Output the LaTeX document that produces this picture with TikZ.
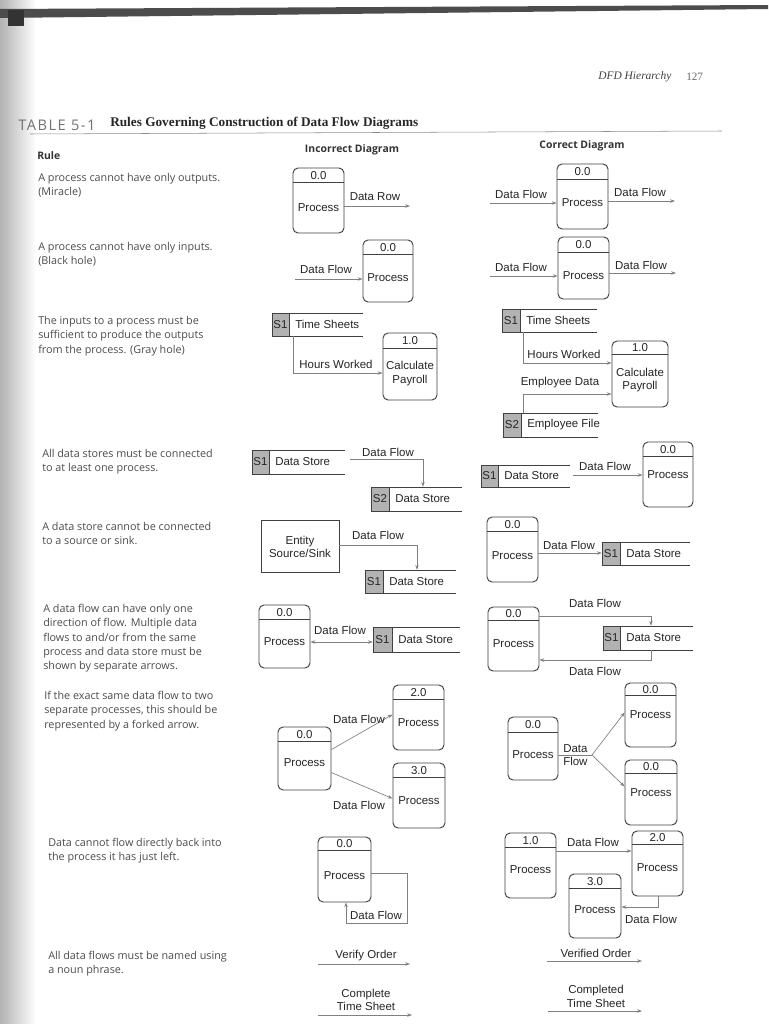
\documentclass[tikz,border=0pt]{standalone}
\usepackage{fontspec}
\setmainfont{Liberation Sans}
\newfontfamily\rulefont{Open Sans}
\newfontfamily\tablefont[LetterSpace=10]{Open Sans}
\newfontfamily\serifface{Liberation Serif}
\usetikzlibrary{arrows.meta,fit,calc}

\tikzset{
  pbox/.style={draw=black!75, line width=0.7pt, rounded corners=3.8pt, fill=white, inner sep=0pt},
  ebox/.style={draw=black!75, line width=0.7pt, fill=white, inner sep=0pt},
  pline/.style={draw=black!75, line width=0.7pt},
  sline/.style={draw=black!75, line width=0.7pt},
  scell/.style={fill=black!30},
  lbl/.style={font=\fontsize{8.6}{10}\selectfont, text=black!85, inner sep=0pt},
  flow/.style={draw=black!50, line width=0.5pt, -{Stealth[length=3.6pt,width=2.6pt]}},
  flowtwo/.style={draw=black!50, line width=0.5pt, {Stealth[length=3.6pt,width=2.6pt]}-{Stealth[length=3.6pt,width=2.6pt]}},
  fline/.style={draw=black!50, line width=0.5pt},
  ruletext/.style={font=\rulefont\fontsize{8.1}{10.7}\selectfont, text=black!70, anchor=north west, align=left, inner sep=0pt},
  headtext/.style={font=\rulefont\fontsize{7.8}{10}\selectfont\bfseries, text=black!80, inner sep=0pt},
}

% name, x1, y1, x2, y2, divider y, id, text, text y
\newcommand\Proc[9]{%
  \node[pbox, fit={(#2,#3) (#4,#5)}] (#1) {};
  \draw[pline] (#2,#6) -- (#4,#6);
  \node[lbl] (#1-id) at ({(#2+#4)/2},{(#3+#6)/2+0.5}) {#7};
  \node[lbl, align=center] (#1-t) at ({(#2+#4)/2},#9) {#8};
}
% name, x1, y1, cell right x, x2, y2, id, text
\newcommand\Store[8]{%
  \node[inner sep=0pt, fit={(#2,#3) (#5,#6)}] (#1) {};
  \fill[scell] (#2,#3) rectangle (#4,#6);
  \draw[sline] (#5,#3) -- (#2,#3) -- (#2,#6) -- (#5,#6);
  \draw[sline] (#4,#3) -- (#4,#6);
  \node[lbl] (#1-id) at ({(#2+#4)/2},{(#3+#6)/2}) {#7};
  \node[lbl, anchor=west] (#1-t) at ({#4+6},{(#3+#6)/2}) {#8};
}

\begin{document}
\begin{tikzpicture}[x=0.75pt, y=-0.75pt]
\useasboundingbox (0,0) rectangle (768,1024);
\fill[white] (0,0) rectangle (768,1024);
% scan edges
\shade[left color=black!30, right color=white] (0,0) rectangle (36,1024);
\fill[black!70] (0,9) -- (768,5) -- (768,9) -- (0,18) -- cycle;
\fill[black!80] (8,10) rectangle (24,26);

% running head and title
\node[font=\serifface\itshape\fontsize{8.6}{10}\selectfont, text=black!75, anchor=west, inner sep=0pt] (runhead) at (598,77) {DFD Hierarchy};
\node[font=\serifface\fontsize{8.4}{10}\selectfont, text=black!60, anchor=west, inner sep=0pt] (pageno) at (686,77) {127};
\node[font=\tablefont\fontsize{11}{12}\selectfont, text=black!55, anchor=west, inner sep=0pt] (tabno) at (18,125) {TABLE 5-1};
\node[font=\serifface\bfseries\fontsize{9.95}{11}\selectfont, text=black!85, anchor=west, inner sep=0pt] (title) at (110,123) {Rules Governing Construction of Data Flow Diagrams};
\draw[black!45, line width=0.4pt] (30,134) -- (722,131);

\node[headtext, anchor=west] (hrule) at (37,156) {Rule};
\node[headtext] (hinc) at (352,150) {Incorrect Diagram};
\node[headtext] (hcor) at (582,146) {Correct Diagram};

% rule texts
\node[ruletext] (r1) at (38,173) {A process cannot have only outputs.\\(Miracle)};
\node[ruletext] (r2) at (38,242) {A process cannot have only inputs.\\(Black hole)};
\node[ruletext] (r3) at (38,316) {The inputs to a process must be\\sufficient to produce the outputs\\from the process. (Gray hole)};
\node[ruletext] (r4) at (42,449) {All data stores must be connected\\to at least one process.};
\node[ruletext] (r5) at (42,522) {A data store cannot be connected\\to a source or sink.};
\node[ruletext] (r6) at (43,604) {A data flow can have only one\\direction of flow. Multiple data\\flows to and/or from the same\\process and data store must be\\shown by separate arrows.};
\node[ruletext] (r7) at (44,691) {If the exact same data flow to two\\separate processes, this should be\\represented by a forked arrow.};
\node[ruletext] (r8) at (48,838) {Data cannot flow directly back into\\the process it has just left.};
\node[ruletext] (r9) at (48,951) {All data flows must be named using\\a noun phrase.};

% ---------- Row 1 ----------
\Proc{a1}{293}{168}{344}{233}{182}{0.0}{Process}{208}
\coordinate (a1o) at (410,206);
\draw[flow] (a1o -| a1.east) -- (a1o);
\node[lbl] (a1l) at (375,197) {Data Row};

\Proc{b1}{557}{164}{608}{229}{179}{0.0}{Process}{203}
\coordinate (b1i) at (490,203);
\draw[flow] (b1i) -- (b1i -| b1.west);
\node[lbl] (b1li) at (521,194) {Data Flow};
\coordinate (b1o) at (675,201);
\draw[flow] (b1o -| b1.east) -- (b1o);
\node[lbl] (b1lo) at (640,192) {Data Flow};

% ---------- Row 2 ----------
\Proc{a2}{363}{240}{413}{302}{254}{0.0}{Process}{278}
\coordinate (a2i) at (295,279);
\draw[flow] (a2i) -- (a2i -| a2.west);
\node[lbl] (a2l) at (326,269) {Data Flow};

\Proc{b2}{558}{237}{609}{299}{252}{0.0}{Process}{276}
\coordinate (b2i) at (490,276);
\draw[flow] (b2i) -- (b2i -| b2.west);
\node[lbl] (b2li) at (521,267) {Data Flow};
\coordinate (b2o) at (676,273);
\draw[flow] (b2o -| b2.east) -- (b2o);
\node[lbl] (b2lo) at (641,265) {Data Flow};

% ---------- Row 3 ----------
\Store{a3s}{272}{313}{289}{363}{336}{S1}{Time Sheets}
\Proc{a3}{383}{333}{437}{400}{348}{1.0}{Calculate\\Payroll}{373.5}
\coordinate (a3k) at (293,373);
\draw[flow] (a3k |- a3s.south) -- (a3k) -- (a3k -| a3.west);
\node[lbl] (a3l) at (336,364) {Hours Worked};

\Store{b3s}{502}{309}{520}{597}{332}{S1}{Time Sheets}
\Proc{b3}{612}{341}{668}{407}{354}{1.0}{Calculate\\Payroll}{380}
\coordinate (b3k1) at (523,363);
\draw[flow] (b3k1 |- b3s.south) -- (b3k1) -- (b3k1 -| b3.west);
\node[lbl] (b3l1) at (564,354) {Hours Worked};
\Store{b3e}{503}{413}{521}{598}{437}{S2}{Employee File}
\coordinate (b3k2) at (523,394);
\draw[flow] (b3k2 |- b3e.north) -- (b3k2) -- (b3k2 -| b3.west);
\node[lbl] (b3l2) at (560,383) {Employee Data};

% ---------- Row 4 ----------
\Store{a4s}{252}{450}{269}{345}{474}{S1}{Data Store}
\Store{a4t}{371}{487}{389}{462}{511}{S2}{Data Store}
\coordinate (a4a) at (350,459);
\coordinate (a4k) at (423,459);
\draw[flow] (a4a) -- (a4k) -- (a4k |- a4t.north);
\node[lbl] (a4l) at (388,452) {Data Flow};

\Store{b4s}{481}{465}{498}{570}{487}{S1}{Data Store}
\Proc{b4}{643}{442}{693}{507}{456}{0.0}{Process}{475}
\coordinate (b4a) at (573,475);
\draw[flow] (b4a) -- (b4a -| b4.west);
\node[lbl] (b4l) at (605,466) {Data Flow};

% ---------- Row 5 ----------
\node[ebox, fit={(261,520) (339,572)}] (a5e) {};
\node[lbl, align=center] (a5et) at (300,547) {Entity\\Source/Sink};
\Store{a5s}{365}{570}{383}{456}{593}{S1}{Data Store}
\coordinate (a5k) at (417,545);
\draw[flow] (a5k -| a5e.east) -- (a5k) -- (a5k |- a5s.north);
\node[lbl] (a5l) at (378,535) {Data Flow};

\Proc{b5}{487}{517}{538}{582}{531}{0.0}{Process}{556}
\Store{b5s}{602}{542}{620}{690}{565}{S1}{Data Store}
\coordinate (b5a) at (538,553);
\draw[flow] (b5a -| b5.east) -- (b5a -| b5s.west);
\node[lbl] (b5l) at (569,545) {Data Flow};

% ---------- Row 6 ----------
\Proc{a6}{259}{605}{310}{668}{619}{0.0}{Process}{642}
\Store{a6s}{373}{627}{392}{460}{652}{S1}{Data Store}
\coordinate (a6a) at (310,642);
\draw[flowtwo] (a6a -| a6.east) -- (a6a -| a6s.west);
\node[lbl] (a6l) at (340,630) {Data Flow};

\Proc{b6}{488}{607}{539}{671}{620}{0.0}{Process}{644}
\Store{b6s}{603}{626}{620}{693}{650}{S1}{Data Store}
\coordinate (b6k1) at (651,616);
\draw[flow] (b6k1 -| b6.east) -- (b6k1) -- (b6k1 |- b6s.north);
\node[lbl] (b6l1) at (595,603) {Data Flow};
\coordinate (b6k2) at (651,660);
\draw[flow] (b6k2 |- b6s.south) -- (b6k2) -- (b6k2 -| b6.east);
\node[lbl] (b6l2) at (595,671) {Data Flow};

% ---------- Row 7 ----------
\Proc{a7}{278}{727}{331}{790}{741}{0.0}{Process}{763}
\Proc{a7u}{393}{685}{444}{750}{699}{2.0}{Process}{723}
\Proc{a7d}{393}{763}{445}{828}{777}{3.0}{Process}{801}
\draw[flow] ($(a7.north east)+(0,23)$) -- ($(a7u.north west)+(0,30)$);
\draw[flow] ($(a7.north east)+(0,46)$) -- ($(a7d.north west)+(0,36)$);
\node[lbl] (a7l1) at (359,719) {Data Flow};
\node[lbl] (a7l2) at (359,805) {Data Flow};

\Proc{b7}{508}{717}{558}{780}{732}{0.0}{Process}{755}
\Proc{b7u}{625}{683}{676}{747}{695}{0.0}{Process}{715}
\Proc{b7d}{625}{760}{677}{825}{773}{0.0}{Process}{793}
\coordinate (b7f) at (592,755);
\draw[fline] (b7f -| b7.east) -- (b7f);
\draw[flow] (b7f) -- ($(b7u.north west)+(0,30)$);
\draw[flow] (b7f) -- ($(b7d.north west)+(0,27)$);
\node[lbl, align=left, anchor=west] (b7l) at (563,755) {Data\\Flow};

% ---------- Row 8 ----------
\Proc{a8}{318}{837}{371}{902}{850}{0.0}{Process}{876}
\coordinate (a8k1) at (407,873);
\coordinate (a8k2) at (346,923);
\draw[flow] (a8k1 -| a8.east) -- (a8k1) |- (a8k2) -- (a8k2 |- a8.south);
\node[lbl] (a8l) at (376,915) {Data Flow};

\Proc{b8a}{505}{833}{556}{898}{847}{1.0}{Process}{870}
\Proc{b8b}{632}{831}{683}{896}{844}{2.0}{Process}{868}
\Proc{b8c}{569}{874}{621}{938}{888}{3.0}{Process}{910}
\coordinate (b8k) at (556,851);
\draw[flow] (b8k -| b8a.east) -- (b8k -| b8b.west);
\node[lbl] (b8l1) at (593,842) {Data Flow};
\coordinate (b8m) at (658,907);
\draw[flow] (b8m |- b8b.south) -- (b8m) -- (b8m -| b8c.east);
\node[lbl] (b8l2) at (651,919) {Data Flow};

% ---------- Row 9 ----------
\node[lbl] (a9a) at (366,956) {Verify Order};
\coordinate (a9s) at (318,964);
\coordinate (a9e) at (410,964);
\draw[flow] (a9s) -- (a9e);
\node[lbl, align=center] (a9b) at (366,1000) {Complete\\Time Sheet};
\coordinate (a9s2) at (318,1015);
\coordinate (a9e2) at (412,1015);
\draw[flow] (a9s2) -- (a9e2);

\node[lbl] (b9a) at (596,953) {Verified Order};
\coordinate (b9s) at (547,961);
\coordinate (b9e) at (642,961);
\draw[flow] (b9s) -- (b9e);
\node[lbl, align=center] (b9b) at (596,996.5) {Completed\\Time Sheet};
\coordinate (b9s2) at (548,1011);
\coordinate (b9e2) at (642,1011);
\draw[flow] (b9s2) -- (b9e2);
\end{tikzpicture}
\end{document}
